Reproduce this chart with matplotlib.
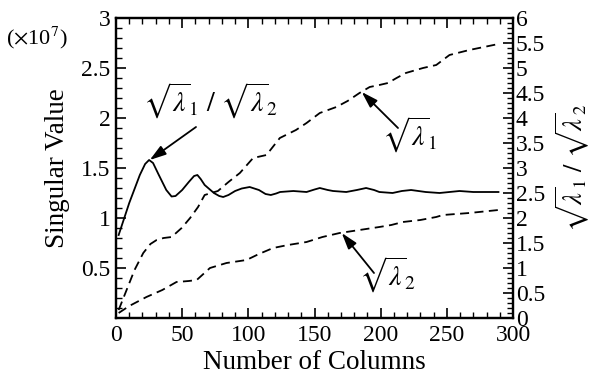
import matplotlib
matplotlib.use("Agg")
import matplotlib.pyplot as plt
from matplotlib.ticker import MultipleLocator, FuncFormatter

plt.rcParams['font.family'] = ['Liberation Serif', 'DejaVu Serif']
plt.rcParams['mathtext.fontset'] = 'stix'

# Data (left axis in units of 1e7; ratio on right axis)
ratio_x = [2, 10, 18, 22, 25, 28, 32, 38, 42, 45, 50, 55, 59, 61.5, 64, 67, 74, 78, 81, 85, 90, 95, 101, 108, 113, 117, 121, 124, 134, 144, 150, 154, 160, 164, 174, 182, 189, 195, 199, 209, 216, 223, 234, 244.5, 252, 259.6, 270, 280, 289]
ratio_y = [1.66, 2.30, 2.86, 3.08, 3.16, 3.10, 2.88, 2.56, 2.43, 2.44, 2.56, 2.72, 2.84, 2.86, 2.78, 2.66, 2.50, 2.44, 2.42, 2.46, 2.54, 2.59, 2.62, 2.56, 2.48, 2.46, 2.49, 2.52, 2.54, 2.52, 2.57, 2.60, 2.56, 2.54, 2.52, 2.56, 2.60, 2.56, 2.52, 2.50, 2.54, 2.56, 2.52, 2.50, 2.52, 2.54, 2.52, 2.52, 2.52]

l1_x = [2, 8, 14, 20.6, 26, 30.7, 36, 42, 49.6, 56, 62, 67, 72, 77, 85, 93.6, 103.6, 113.7, 123.8, 136, 144, 154, 166.5, 175, 184, 191.7, 199, 205.5, 212, 219, 232, 242, 252, 267, 278, 289]
l1_y = [0.08, 0.28, 0.48, 0.65, 0.74, 0.78, 0.80, 0.81, 0.90, 1.00, 1.11, 1.23, 1.25, 1.27, 1.36, 1.45, 1.60, 1.63, 1.80, 1.88, 1.95, 2.05, 2.11, 2.17, 2.25, 2.31, 2.33, 2.35, 2.40, 2.45, 2.50, 2.53, 2.63, 2.68, 2.71, 2.74]

l2_x = [2, 10, 23, 35, 45.7, 55, 61, 71, 83.5, 98.6, 108, 118.7, 130, 144, 156, 169, 184, 199, 208, 216.8, 230, 242, 247, 267, 289]
l2_y = [0.05, 0.12, 0.21, 0.28, 0.36, 0.37, 0.38, 0.50, 0.55, 0.58, 0.64, 0.70, 0.73, 0.76, 0.81, 0.85, 0.88, 0.91, 0.93, 0.96, 0.98, 1.01, 1.03, 1.05, 1.08]

xlabel = "Number of Columns"
ylabel = "Singular Value"
y2label = r"$\sqrt{\lambda}_1\ /\ \sqrt{\lambda}_2$"
scale_label = r"($\times$10$^{7}$)"
ratio_label = r"$\sqrt{\lambda}_1\ /\ \sqrt{\lambda}_2$"
l1_label = r"$\sqrt{\lambda}_1$"
l2_label = r"$\sqrt{\lambda}_2$"

W, H = 602, 376
fig = plt.figure(figsize=(W / 100, H / 100), dpi=100)
ax = fig.add_axes([116 / W, 1 - 318 / H, (513 - 116) / W, 300 / H])
ax2 = ax.twinx()

lw = 1.3
dash = (0, (5, 3))
ax.plot(l1_x, l1_y, color='black', lw=lw, ls=dash)
ax.plot(l2_x, l2_y, color='black', lw=lw, ls=dash)
ax2.plot(ratio_x, ratio_y, color='black', lw=lw)

ax.set_xlim(0, 300)
ax.set_ylim(0, 3)
ax2.set_ylim(0, 6)

fs_tick = 17
fs_lab = 19.5
ax.xaxis.set_major_locator(MultipleLocator(50))
ax.xaxis.set_minor_locator(MultipleLocator(10))
ax.yaxis.set_major_locator(MultipleLocator(0.5))
ax.yaxis.set_minor_locator(MultipleLocator(0.1))
ax2.yaxis.set_major_locator(MultipleLocator(0.5))
ax2.yaxis.set_minor_locator(MultipleLocator(0.1))

def fmt(v, pos):
    if abs(v - round(v)) < 1e-9:
        return "%d" % round(v)
    return "%g" % v

def fmt_left(v, pos):
    if abs(v) < 1e-9:
        return ""
    return fmt(v, pos)

ax.xaxis.set_major_formatter(FuncFormatter(fmt))
ax.yaxis.set_major_formatter(FuncFormatter(fmt_left))
ax2.yaxis.set_major_formatter(FuncFormatter(fmt))

ax.tick_params(axis='x', which='both', direction='in', top=True, bottom=True, labelsize=fs_tick, pad=5)
ax.tick_params(axis='y', which='both', direction='in', left=True, right=False, labelsize=fs_tick, pad=4)
ax2.tick_params(axis='y', which='both', direction='in', right=True, labelsize=fs_tick, pad=2)
for a in (ax, ax2):
    a.tick_params(which='major', length=7, width=1.2)
    a.tick_params(which='minor', length=4, width=1.0)
    for s in a.spines.values():
        s.set_linewidth(1.6)

ax.set_xlabel(xlabel, fontsize=fs_lab, labelpad=3)
ax.set_ylabel(ylabel, fontsize=fs_lab, labelpad=8)
ax2.set_ylabel(y2label, fontsize=19, rotation=90, labelpad=6)

fig.text(6 / W, 1 - 38 / H, scale_label, fontsize=16, va='center', ha='left')

afs = 20
arrow_kw = dict(arrowstyle='-|>,head_length=0.7,head_width=0.22', color='black', lw=1.3,
                mutation_scale=14, shrinkA=0, shrinkB=0)

# ratio annotation
fig.text(210 / W, 1 - 101 / H, ratio_label, fontsize=afs, ha='center', va='center')
ax2.annotate("", xy=(25.5, 3.16), xycoords='data',
             xytext=(196, H - 127), textcoords='figure pixels', arrowprops=arrow_kw)
# lambda1
fig.text(410 / W, 1 - 135 / H, l1_label, fontsize=afs, ha='center', va='center')
ax.annotate("", xy=(185.7, 2.26), xycoords='data',
            xytext=(398, H - 128), textcoords='figure pixels', arrowprops=arrow_kw)
# lambda2
fig.text(388 / W, 1 - 275 / H, l2_label, fontsize=afs, ha='center', va='center')
ax.annotate("", xy=(170.6, 0.85), xycoords='data',
            xytext=(374, H - 273), textcoords='figure pixels', arrowprops=arrow_kw)

fig.savefig("out.png", dpi=100)
